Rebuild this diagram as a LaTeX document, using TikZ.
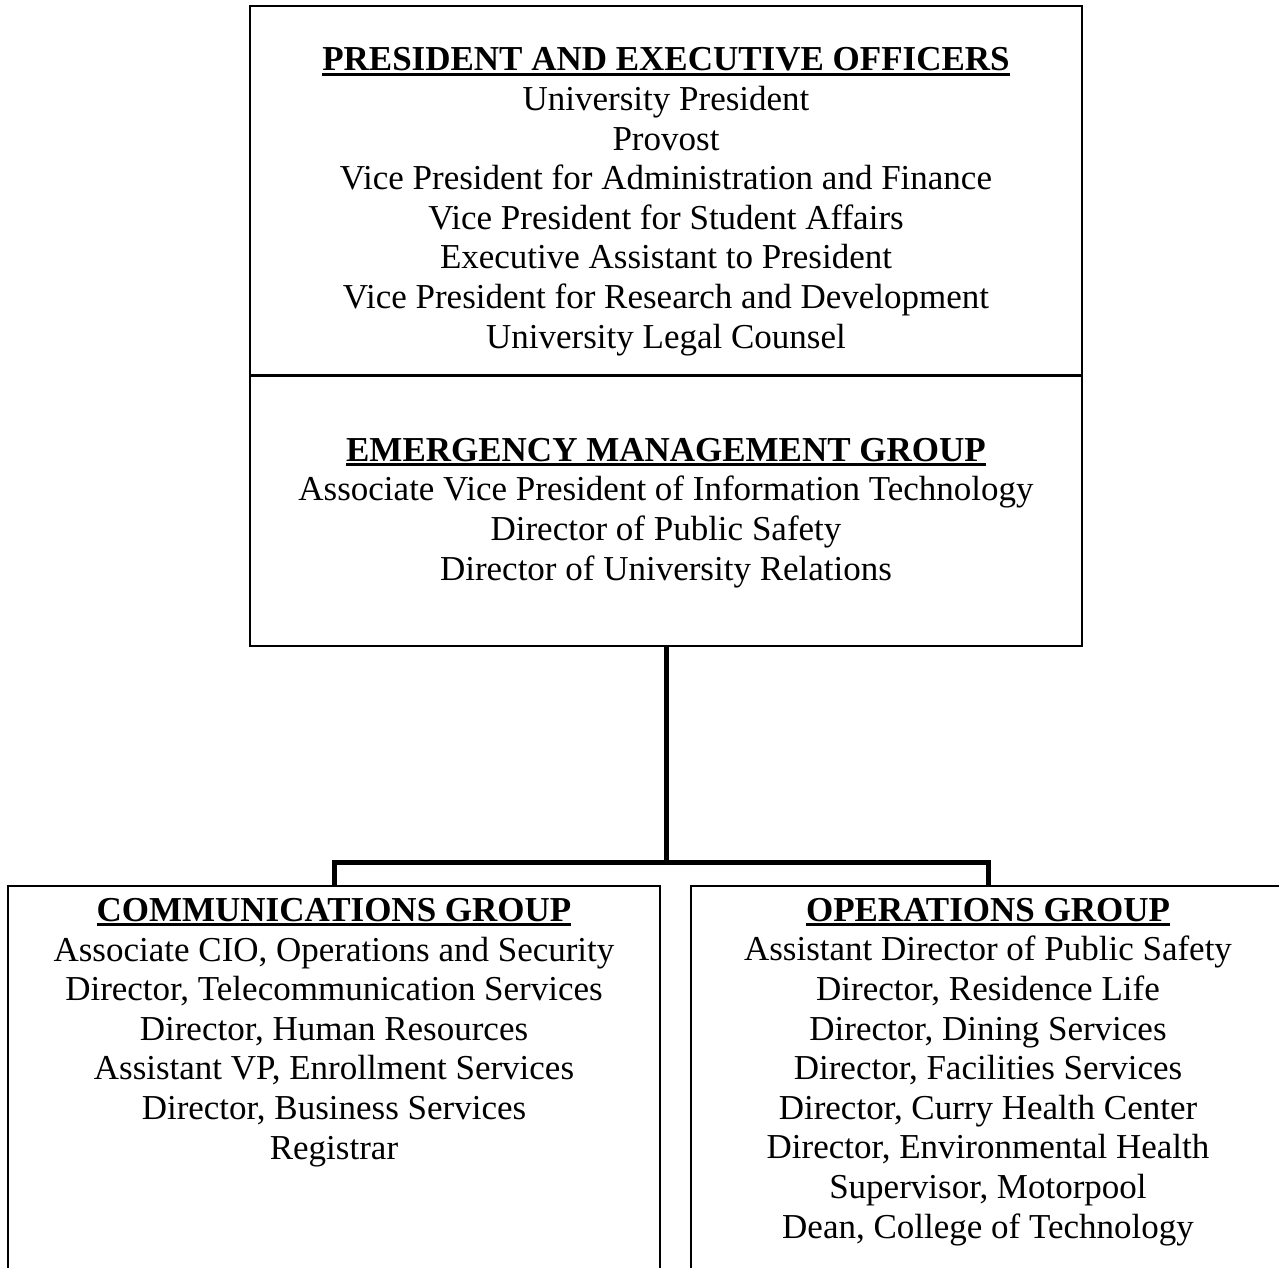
\documentclass[tikz,border=0pt]{standalone}
\usepackage{fontspec}
\setmainfont{Liberation Serif}
\newcommand\ulttl[1]{\setbox0\hbox{\bfseries #1}\leavevmode\rlap{\rule[-5pt]{\wd0}{3pt}}\box0}
\begin{document}
\begin{tikzpicture}[x=1pt,y=-1pt,
  boxx/.style={draw,line width=1.8pt,inner sep=0pt,outer sep=0pt},
  txt/.style={align=center,inner sep=0pt,anchor=base,font=\fontsize{35}{39.6}\selectfont},
  conn/.style={line width=5pt}]
\useasboundingbox (0,0) rectangle (1279,1268);
\clip (0,0) rectangle (1279,1268);
\node[boxx,minimum width=832pt,minimum height=369pt] (top) at (666,190.5) {};
\node[boxx,minimum width=832pt,minimum height=271pt] (emg) at (666,510.5) {};
\node[boxx,minimum width=652pt,minimum height=404pt] (comm) at (334,1088) {};
\node[boxx,minimum width=594pt,minimum height=404pt] (ops) at (988,1088) {};
\draw[line width=3pt] (top.south west) -- (top.south east);
\node[txt] (toptxt) at (666,348) {\ulttl{PRESIDENT AND EXECUTIVE OFFICERS}\\
University President\\ Provost\\ Vice President for Administration and Finance\\
Vice President for Student Affairs\\ Executive Assistant to President\\
Vice President for Research and Development\\ University Legal Counsel};
\node[txt] (emgtxt) at (666,580) {\ulttl{EMERGENCY MANAGEMENT GROUP}\\
Associate Vice President of Information Technology\\ Director of Public Safety\\
Director of University Relations};
\node[txt] (commtxt) at (334,1159) {\ulttl{COMMUNICATIONS GROUP}\\
Associate CIO, Operations and Security\\ Director, Telecommunication Services\\
Director, Human Resources\\ Assistant VP, Enrollment Services\\
Director, Business Services\\ Registrar};
\node[txt] (opstxt) at (988,1238) {\ulttl{OPERATIONS GROUP}\\
Assistant Director of Public Safety\\ Director, Residence Life\\
Director, Dining Services\\ Director, Facilities Services\\
Director, Curry Health Center\\ Director, Environmental Health\\
Supervisor, Motorpool\\ Dean, College of Technology};
\coordinate (jn) at (666,862);
\draw[conn] (emg.south) -- (jn);
\draw[conn] (jn) -| (comm.north);
\draw[conn] (jn) -| (ops.north);
\end{tikzpicture}
\end{document}
